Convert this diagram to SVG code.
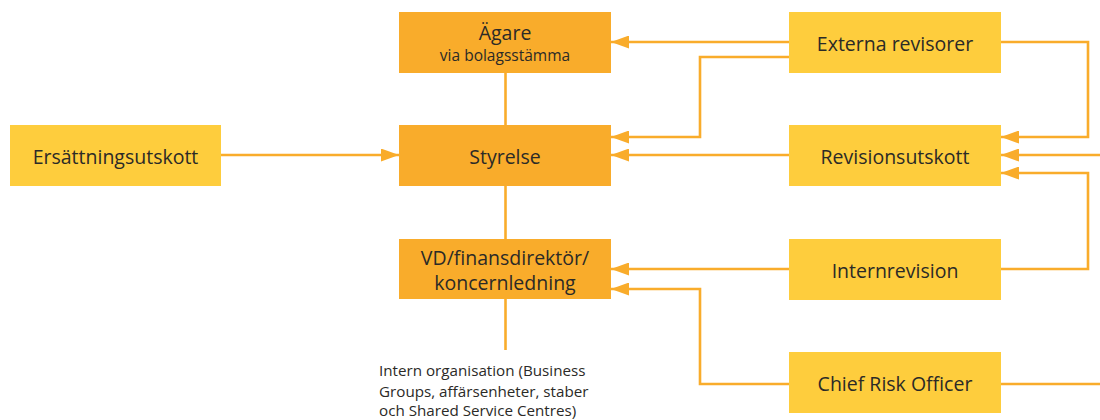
<svg xmlns="http://www.w3.org/2000/svg" width="1100" height="420" viewBox="0 0 1100 420">
<style>
.dark{fill:#F9AC2B}
.light{fill:#FECD3D}
.lbl{font-family:"Open Sans","Liberation Sans",sans-serif;font-size:19.5px;fill:#2B2A27;text-anchor:middle}
.sub{font-size:15.5px}
.note{font-family:"Open Sans","Liberation Sans",sans-serif;font-size:15.2px;fill:#2B2A27}
.con path{fill:none;stroke:#F9AC2B;stroke-width:2.6}
</style>
<defs>
<marker id="ah" markerUnits="userSpaceOnUse" viewBox="0 0 18 13" refX="18" refY="6.5" markerWidth="18" markerHeight="13" orient="auto">
<path d="M0,0 L18,6.5 L0,13 z" fill="#F9AC2B"/>
</marker>
</defs>
<g class="con">
<path d="M789,42 H611" marker-end="url(#ah)"/>
<path d="M789,57 H700 V137 H611" marker-end="url(#ah)"/>
<path d="M789,155 H611" marker-end="url(#ah)"/>
<path d="M221,155 H399" marker-end="url(#ah)"/>
<path d="M1001,42 H1088 V137 H1001" marker-end="url(#ah)"/>
<path d="M1100,155 H1001" marker-end="url(#ah)"/>
<path d="M1001,269 H1088 V173 H1001" marker-end="url(#ah)"/>
<path d="M789,269 H611" marker-end="url(#ah)"/>
<path d="M789,384 H700 V289 H611" marker-end="url(#ah)"/>
<path d="M1001,384 H1100"/>
<path d="M505.5,73 V125"/>
<path d="M505.5,186 V239"/>
<path d="M505.5,299 V350"/>
</g>
<g id="agare"><rect class="dark" x="399" y="12" width="212" height="61"/><text class="lbl" x="505" y="40">Ägare</text><text class="lbl sub" x="505" y="61">via bolagsstämma</text></g>
<g id="styrelse"><rect class="dark" x="399" y="125" width="212" height="61"/><text class="lbl" x="505" y="164">Styrelse</text></g>
<g id="vd"><rect class="dark" x="399" y="239" width="212" height="60"/><text class="lbl" x="505" y="265">VD/finansdirektör/</text><text class="lbl" x="505" y="290">koncernledning</text></g>
<g id="ersattning"><rect class="light" x="10" y="125" width="211" height="61"/><text class="lbl" x="115.5" y="164">Ersättningsutskott</text></g>
<g id="externa"><rect class="light" x="789" y="12" width="212" height="61"/><text class="lbl" x="895" y="51">Externa revisorer</text></g>
<g id="revisionsutskott"><rect class="light" x="789" y="125" width="212" height="61"/><text class="lbl" x="895" y="164">Revisionsutskott</text></g>
<g id="internrevision"><rect class="light" x="789" y="239" width="212" height="61"/><text class="lbl" x="895" y="278">Internrevision</text></g>
<g id="cro"><rect class="light" x="789" y="352" width="212" height="61"/><text class="lbl" x="895" y="391">Chief Risk Officer</text></g>
<g id="intern-org"><text class="note" x="379" y="376">Intern organisation (Business</text><text class="note" x="379" y="397">Groups, affärsenheter, staber</text><text class="note" x="379" y="416">och Shared Service Centres)</text></g>
</svg>
